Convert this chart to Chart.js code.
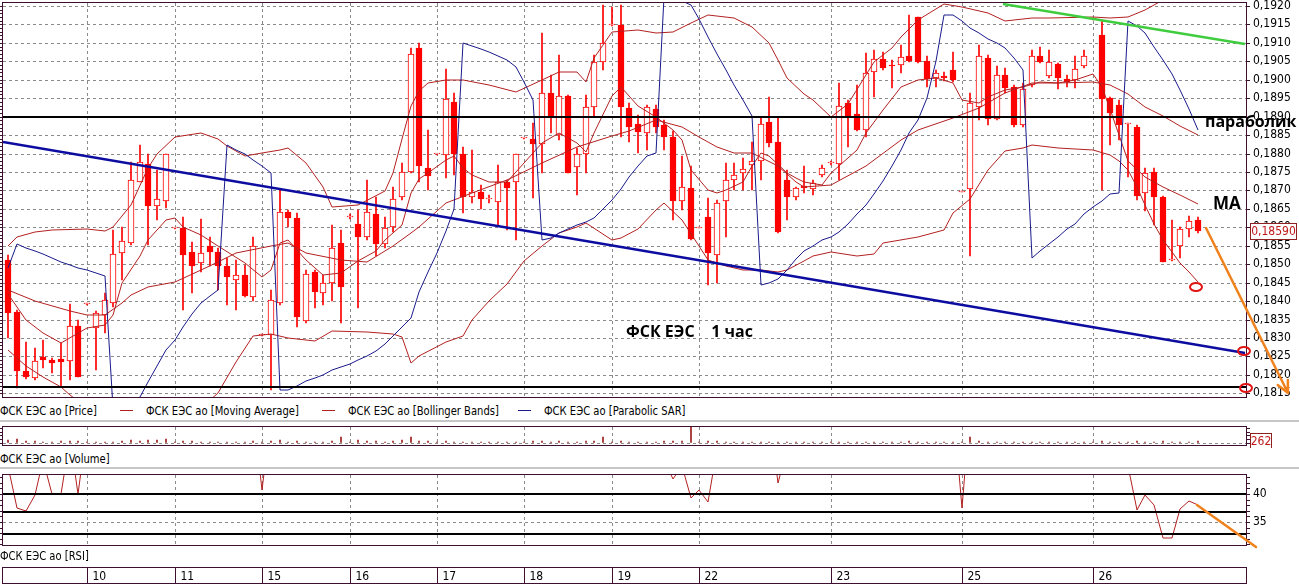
<!DOCTYPE html>
<html lang="ru">
<head>
<meta charset="utf-8">
<title>ФСК ЕЭС 1 час</title>
<script src="https://cdn.jsdelivr.net/npm/chart.js@4.4.1/dist/chart.umd.min.js"></script>
<style>
  html, body { margin: 0; padding: 0; background: #fff; }
  body { position: relative; width: 1299px; height: 585px; overflow: hidden;
         font-family: "DejaVu Sans Condensed", "Liberation Sans", sans-serif; }
  .panel { position: absolute; left: 0; width: 1299px; }
  .txt { position: absolute; font-size: 13px; line-height: 15px; color: #000; white-space: nowrap;
         transform: scaleX(0.855); transform-origin: 0 0; }
  .key { position: absolute; height: 1px; width: 13px; }
  .rule { position: absolute; left: 0; width: 1299px; height: 2px; background: #c6c6c6; }
  .note { position: absolute; font-family: "Open Sans", sans-serif; font-weight: 700; color: #000; white-space: pre; line-height: 20px; }
</style>
</head>
<body>
<div class="panel" style="top:0;height:400px"><canvas id="priceChart"></canvas></div>
<div class="panel" style="top:424px;height:24px"><canvas id="volumeChart"></canvas></div>
<div class="panel" style="top:472px;height:113px"><canvas id="rsiChart"></canvas></div>

<div class="txt" style="left:0;top:403px">ФСК ЕЭС ао [Price]</div>
<div class="key" style="left:120px;top:410px;background:#b32020"></div>
<div class="txt" style="left:146px;top:403px">ФСК ЕЭС ао [Moving Average]</div>
<div class="key" style="left:322px;top:410px;background:#b32020"></div>
<div class="txt" style="left:348px;top:403px">ФСК ЕЭС ао [Bollinger Bands]</div>
<div class="key" style="left:518px;top:410px;background:#1a1a8c"></div>
<div class="txt" style="left:544px;top:403px">ФСК ЕЭС ао [Parabolic SAR]</div>
<div class="rule" style="top:420px"></div>
<div class="txt" style="left:0;top:451px">ФСК ЕЭС ао [Volume]</div>
<div class="rule" style="top:467px"></div>
<div class="txt" style="left:0;top:548px">ФСК ЕЭС ао [RSI]</div>

<div class="note" style="left:1205px;top:111px;font-size:16px">параболик</div>
<div class="note" style="left:1213px;top:193px;font-size:17px">MA</div>
<div class="note" style="left:626px;top:321px;font-size:16px">ФСК ЕЭС    1 час</div>

<script>
// hourly bars, index 0 = first bar on screen
const dayStarts = [9, 19, 29, 39, 49, 59, 69, 79, 94, 109, 124];
const dayLabels = ['10', '11', '15', '16', '17', '18', '19', '22', '23', '25', '26'];
const priceTicks = [0.1920, 0.1915, 0.1910, 0.1905, 0.1900, 0.1895, 0.1890, 0.1885, 0.1880, 0.1875, 0.1870,
                    0.1865, 0.1860, 0.1855, 0.1850, 0.1845, 0.1840, 0.1835, 0.1830, 0.1825, 0.1820, 0.1815];
const rsiTicks = [31, 32, 33, 34, 35, 36, 37, 38, 39, 40, 41, 42, 43];
const volumeTicks = [0, 500, 1000, 1500, 2000];

const opens = [
  0.18512, 0.1837, 0.1821, 0.18191, 0.18248, 0.1824, 0.18243, 0.18238, 0.18333, 0.18392,
  0.18326, 0.18363, 0.18396, 0.1853, 0.18557, 0.18724, 0.18772, 0.18659, 0.1867, 0.18597,
  0.18597, 0.18532, 0.18503, 0.18548, 0.18532, 0.18495, 0.18457, 0.18471, 0.18412, 0.18308,
  0.18308, 0.18394, 0.18641, 0.18625, 0.18347, 0.18478, 0.18421, 0.18448, 0.18557, 0.18629,
  0.18609, 0.18575, 0.18635, 0.18554, 0.18602, 0.18683, 0.18749, 0.19085, 0.18762, 0.18798,
  0.18796, 0.18939, 0.18799, 0.18683, 0.18695, 0.18676, 0.18668, 0.18724, 0.18724, 0.18841,
  0.18839, 0.18826, 0.18963, 0.1885, 0.18957, 0.18763, 0.18799, 0.18925, 0.19047, 0.19149,
  0.19149, 0.18923, 0.18879, 0.18855, 0.18921, 0.18878, 0.18846, 0.1867, 0.18706, 0.18599,
  0.18627, 0.18525, 0.18672, 0.18728, 0.18747, 0.18769, 0.1878, 0.18885, 0.18832, 0.18728,
  0.18681, 0.18711, 0.18704, 0.18742, 0.18775, 0.18771, 0.18936, 0.18907, 0.18864, 0.19022,
  0.19055, 0.19041, 0.1904, 0.19064, 0.19169, 0.19051, 0.19004, 0.1901, 0.19027, 0.18697,
  0.18703, 0.18927, 0.19058, 0.18894, 0.19013, 0.1898, 0.18876, 0.18986, 0.19063, 0.1901,
  0.19042, 0.19001, 0.18999, 0.19036, 0.19165, 0.19121, 0.1895, 0.18932, 0.1888, 0.18873,
  0.18692, 0.18749, 0.18683, 0.18512, 0.18548, 0.18595, 0.1862
];
const highs = [
  0.18525, 0.18375, 0.1829, 0.18272, 0.18295, 0.18245, 0.18286, 0.18392, 0.1835, 0.18395,
  0.18372, 0.18421, 0.18593, 0.18602, 0.18778, 0.18823, 0.188, 0.18756, 0.18799, 0.18599,
  0.18629, 0.18561, 0.18623, 0.18573, 0.18543, 0.18516, 0.18512, 0.18498, 0.18573, 0.1831,
  0.1843, 0.18701, 0.18647, 0.18638, 0.18485, 0.18485, 0.18471, 0.18606, 0.18593, 0.18635,
  0.18647, 0.18728, 0.18683, 0.18629, 0.1871, 0.18775, 0.19085, 0.19099, 0.18864, 0.188,
  0.19028, 0.18963, 0.18819, 0.1881, 0.18715, 0.18688, 0.18769, 0.18728, 0.18798, 0.18843,
  0.18882, 0.19126, 0.19013, 0.19067, 0.18959, 0.18814, 0.18959, 0.19067, 0.19203, 0.19198,
  0.19203, 0.18936, 0.18905, 0.18932, 0.18932, 0.18891, 0.1886, 0.18792, 0.18765, 0.18601,
  0.18679, 0.18674, 0.18774, 0.18774, 0.18787, 0.18832, 0.189, 0.18954, 0.189, 0.18756,
  0.1871, 0.18765, 0.18728, 0.18769, 0.1878, 0.1899, 0.18945, 0.18986, 0.19072, 0.19081,
  0.19076, 0.19054, 0.19094, 0.19176, 0.19171, 0.19063, 0.19027, 0.19022, 0.19076, 0.18699,
  0.18963, 0.19094, 0.19067, 0.19036, 0.19031, 0.18986, 0.1899, 0.19081, 0.1909, 0.19081,
  0.19045, 0.19013, 0.19063, 0.19081, 0.19167, 0.19158, 0.18954, 0.18945, 0.18882, 0.18878,
  0.1876, 0.1876, 0.18686, 0.1862, 0.18602, 0.18631, 0.18629
];
const lows = [
  0.183, 0.18164, 0.1819, 0.18187, 0.18218, 0.18204, 0.18168, 0.18187, 0.18195, 0.1839,
  0.18214, 0.18313, 0.18385, 0.18457, 0.18552, 0.18724, 0.18552, 0.1862, 0.18652, 0.18595,
  0.18376, 0.18421, 0.1848, 0.18494, 0.1843, 0.1839, 0.18376, 0.18412, 0.18399, 0.18306,
  0.18159, 0.1839, 0.186, 0.1833, 0.1834, 0.18381, 0.1839, 0.18399, 0.1834, 0.18623,
  0.18381, 0.18566, 0.18521, 0.18543, 0.18588, 0.18674, 0.18747, 0.18724, 0.18701, 0.18796,
  0.18733, 0.18742, 0.18638, 0.18665, 0.18649, 0.18665, 0.18606, 0.18593, 0.18566, 0.18839,
  0.18679, 0.18747, 0.18855, 0.18837, 0.18747, 0.18688, 0.18747, 0.189, 0.19027, 0.19145,
  0.18846, 0.18832, 0.18801, 0.1881, 0.18855, 0.1881, 0.1862, 0.18647, 0.18566, 0.18597,
  0.18444, 0.18448, 0.18575, 0.18701, 0.18701, 0.18701, 0.18728, 0.18819, 0.18584, 0.1862,
  0.18674, 0.18692, 0.18688, 0.18737, 0.1877, 0.18728, 0.18819, 0.1886, 0.18846, 0.18954,
  0.19027, 0.18977, 0.19018, 0.19049, 0.19045, 0.1898, 0.18981, 0.18996, 0.18995, 0.18695,
  0.18521, 0.18891, 0.18877, 0.18891, 0.18963, 0.18873, 0.18873, 0.18981, 0.19045, 0.19004,
  0.18974, 0.1898, 0.18977, 0.19031, 0.19163, 0.18701, 0.18823, 0.18837, 0.18737, 0.18674,
  0.18643, 0.18606, 0.18507, 0.1851, 0.18516, 0.18575, 0.18584
];
const closes = [
  0.18367, 0.1821, 0.18193, 0.18238, 0.18239, 0.18233, 0.18236, 0.18333, 0.18195, 0.18392,
  0.18367, 0.18403, 0.18527, 0.18563, 0.18728, 0.18778, 0.18659, 0.18676, 0.18799, 0.18597,
  0.18525, 0.18496, 0.1853, 0.18532, 0.18494, 0.18464, 0.18471, 0.18415, 0.18548, 0.18308,
  0.18403, 0.18641, 0.18625, 0.18358, 0.18474, 0.18424, 0.18448, 0.18543, 0.18438, 0.18629,
  0.18573, 0.18641, 0.18554, 0.18597, 0.18677, 0.18749, 0.19069, 0.18765, 0.1874, 0.18798,
  0.18947, 0.18799, 0.18683, 0.18695, 0.18677, 0.18676, 0.18724, 0.18706, 0.18798, 0.18841,
  0.18826, 0.18963, 0.189, 0.18957, 0.18748, 0.18799, 0.18925, 0.19047, 0.19099, 0.19149,
  0.18927, 0.18873, 0.18858, 0.18927, 0.18871, 0.18844, 0.1867, 0.18709, 0.18568, 0.18599,
  0.1853, 0.18665, 0.18727, 0.18742, 0.18757, 0.1878, 0.18879, 0.18828, 0.18587, 0.18683,
  0.18706, 0.18707, 0.18721, 0.1876, 0.18775, 0.18929, 0.18898, 0.18864, 0.19018, 0.19055,
  0.19033, 0.19036, 0.19061, 0.19052, 0.19047, 0.19002, 0.19019, 0.19006, 0.19, 0.18697,
  0.18936, 0.19064, 0.18894, 0.19013, 0.18977, 0.18876, 0.18974, 0.19063, 0.19049, 0.19049,
  0.19004, 0.18995, 0.19028, 0.19064, 0.19165, 0.18947, 0.18909, 0.18876, 0.1888, 0.18686,
  0.18747, 0.18683, 0.18507, 0.18512, 0.18595, 0.18616, 0.1859
];

// Parabolic SAR, one value per bar
const sarValues = [
  0.1849, 0.18555, 0.18545, 0.18536, 0.18527, 0.18517, 0.18507, 0.18498, 0.1849, 0.18483, 0.18476, 0.18468,
  0.1811, 0.18115, 0.18125, 0.1814, 0.1818, 0.18225, 0.18268, 0.18295, 0.1833, 0.18365, 0.18395, 0.18415, 0.1843,
  0.18823, 0.1881, 0.18798, 0.18783, 0.18765, 0.18747,
  0.18159, 0.18159, 0.1817, 0.18183, 0.18192, 0.182, 0.18212, 0.1822, 0.1823, 0.1824, 0.1825, 0.18265, 0.18285,
  0.18305, 0.1833, 0.18355, 0.18425, 0.1848, 0.1853, 0.1859, 0.1865,
  0.19099, 0.19092, 0.19083, 0.19074, 0.19064, 0.19054, 0.19035, 0.18995, 0.18945,
  0.18566, 0.18572, 0.18584, 0.18595, 0.18606, 0.18615, 0.18625, 0.1865, 0.18674, 0.18705, 0.18735, 0.18765, 0.18792, 0.18801,
  0.19225, 0.1922, 0.19213, 0.19202, 0.19165, 0.19117, 0.1907, 0.19026, 0.18985, 0.18945, 0.18903,
  0.18444, 0.1845, 0.1846, 0.18485, 0.18515, 0.18535, 0.1855, 0.18566, 0.18575, 0.18586, 0.1861, 0.18635, 0.1866,
  0.1869, 0.18725, 0.18765, 0.1881, 0.18855, 0.1889, 0.1895, 0.1905,
  0.19176, 0.19176, 0.1916, 0.1914, 0.19126, 0.1911, 0.19099, 0.19085, 0.1906, 0.19027,
  0.18516, 0.18535, 0.18555, 0.18575, 0.18595, 0.1861, 0.18635, 0.18655, 0.1867, 0.18689, 0.18692,
  0.1916, 0.19145, 0.19126, 0.1909, 0.19054, 0.19015, 0.18973, 0.1892, 0.18864
];

// indicator lines as [bar, price]
const maLine = [[0,0.1842],[2,0.18349],[4,0.18313],[6,0.18286],[9,0.18326],[11,0.18335],[12,0.18363],[13,0.1845],
  [15,0.18521],[16,0.18566],[18,0.1862],[19,0.18625],[20,0.18602],[22,0.1858],[24,0.18548],[27,0.18503],[29,0.18464],
  [30,0.18485],[31,0.18557],[32,0.18566],[34,0.18512],[36,0.1847],[38,0.18476],[40,0.18508],[42,0.18535],[43,0.18566],
  [45,0.18605],[46,0.18692],[47,0.1873],[48,0.18747],[50,0.18783],[51,0.18792],[52,0.1876],[53,0.18742],[55,0.18724],
  [57,0.18724],[59,0.18774],[61,0.18828],[63,0.18855],[65,0.18828],[66,0.18805],[67,0.18855],[69,0.18955],[70,0.1898],
  [72,0.1893],[74,0.189],[76,0.18864],[77,0.18837],[78,0.18756],[80,0.187],[81,0.18692],[82,0.18701],[84,0.18724],
  [85,0.18765],[86,0.18801],[87,0.18792],[89,0.18747],[90,0.18733],[91,0.18724],[93,0.18715],[94,0.18747],[97,0.1881],
  [98,0.18855],[100,0.18918],[102,0.18981],[104,0.18999],[106,0.19004],[108,0.1899],[109,0.18945],[111,0.18936],
  [112,0.18954],[114,0.18972],[116,0.1898],[118,0.18995],[120,0.1899],[122,0.19],[124,0.19015],[125,0.1898],
  [126,0.1892],[127,0.1885],[128,0.1878],[130,0.18735],[132,0.1871],[134,0.18688],[136,0.18663]];
const bbUpper = [[0,0.18548],[1,0.18575],[3,0.18586],[5,0.18593],[9,0.18595],[11,0.18591],[12,0.18602],[14,0.1866],
  [16,0.1876],[17,0.188],[19,0.18846],[22,0.18855],[24,0.1884],[25,0.1882],[27,0.18792],[29,0.18801],[31,0.1881],
  [32,0.18814],[34,0.18774],[36,0.1871],[37,0.18655],[40,0.18661],[43,0.18698],[44,0.18747],[45,0.1884],[46,0.1893],
  [47,0.1897],[48,0.1899],[50,0.19],[52,0.19],[55,0.18986],[58,0.18968],[61,0.19],[63,0.19022],[65,0.19022],
  [66,0.18995],[67,0.1906],[69,0.1913],[72,0.19135],[74,0.19126],[76,0.1913],[78,0.19153],[80,0.19176],[83,0.19167],
  [85,0.19144],[87,0.19099],[88,0.19054],[89,0.19005],[91,0.1896],[92,0.18945],[94,0.189],[96,0.18935],[99,0.19048],
  [101,0.19085],[102,0.19117],[104,0.19162],[107,0.19205],[109,0.19198],[112,0.1918],[114,0.1916],[117,0.19167],
  [119,0.19167],[124,0.19171],[126,0.19167],[128,0.1917],[130,0.1919],[132,0.19215],[134,0.19235],[136,0.1925]];
const bbMiddle = [[0,0.1843],[3,0.18399],[7,0.18372],[9,0.18363],[11,0.18363],[13,0.18394],[14,0.18417],[16,0.18439],
  [19,0.18453],[22,0.18485],[24,0.18505],[26,0.1853],[30,0.18548],[32,0.18557],[34,0.1853],[38,0.18512],[41,0.18507],
  [44,0.18548],[46,0.18585],[47,0.18602],[50,0.18665],[53,0.18692],[57,0.18728],[61,0.18774],[65,0.18819],[69,0.18848],
  [71,0.1886],[74,0.18891],[77,0.18873],[79,0.18846],[81,0.18819],[83,0.18801],[85,0.18801],[88,0.18765],[90,0.18724],
  [91,0.1871],[94,0.18715],[98,0.18765],[102,0.18837],[104,0.18864],[108,0.18896],[111,0.18923],[114,0.18963],
  [117,0.1899],[120,0.1899],[124,0.18995],[126,0.18985],[128,0.1896],[130,0.18925],[132,0.18903],[134,0.18875],[136,0.1885]];
const bbLower = [[0,0.18268],[2,0.18223],[4,0.18195],[6,0.18168],[7,0.18145],[9,0.1811],[12,0.1808],[18,0.1808],
  [22,0.1811],[24,0.1815],[26,0.18235],[28,0.18304],[30,0.1831],[32,0.183],[35,0.18292],[37,0.1832],[41,0.18317],
  [44,0.1831],[45,0.18302],[46,0.18232],[47,0.1825],[50,0.18288],[52,0.18305],[53,0.18349],[55,0.184],[57,0.18445],
  [59,0.1851],[61,0.18548],[63,0.18584],[65,0.18602],[66,0.18611],[69,0.18566],[70,0.18572],[72,0.18595],[74,0.18647],
  [75,0.18665],[77,0.1862],[79,0.1855],[80,0.18512],[82,0.18494],[84,0.18485],[86,0.18485],[88,0.1848],[89,0.18485],
  [91,0.1851],[92,0.18521],[94,0.18534],[97,0.18521],[99,0.18528],[100,0.18557],[104,0.18575],[107,0.18593],[108,0.1864],
  [110,0.18678],[112,0.18755],[114,0.18806],[116,0.18815],[117,0.18823],[120,0.18814],[124,0.1881],[126,0.18795],
  [127,0.1878],[128,0.18755],[129,0.1871],[130,0.1866],[131,0.1861],[132,0.18565],[133,0.18533],[134,0.18503],
  [135,0.18478],[136,0.18452]];

const volumes = [
  350, 520, 180, 260, 150, 120, 300, 200, 260, 80,
  150, 120, 100, 180, 350, 300, 420, 380, 450, 60,
  220, 180, 120, 100, 140, 90, 120, 160, 200, 50,
  260, 380, 150, 300, 120, 90, 110, 200, 760, 60,
  420, 300, 180, 160, 220, 380, 700, 300, 250, 60,
  200, 150, 120, 110, 90, 100, 160, 120, 140, 60,
  180, 250, 140, 200, 150, 110, 180, 240, 700, 60,
  260, 150, 120, 140, 130, 180, 220, 300, 2100, 60,
  250, 180, 120, 100, 90, 80, 120, 110, 130, 100,
  90, 80, 70, 90, 60, 110, 100, 120, 140, 110,
  150, 130, 120, 180, 140, 110, 90, 100, 120, 120,
  700, 180, 130, 120, 110, 130, 100, 140, 90, 100,
  80, 90, 110, 100, 60, 240, 150, 160, 110, 200,
  130, 160, 190, 120, 110, 140, 262
];
const rsiValues = [
  45, 37.5, 37, 39.8, 46, 40, 40, 50, 40, 52,
  55, 58, 62, 64, 68, 70, 62, 63, 68, 60,
  55, 53, 54, 53, 52, 50, 50, 47, 55, 40.7,
  54, 62, 61, 48, 54, 51, 52, 57, 50, 55,
  53, 57, 52, 55, 59, 63, 75, 60, 59, 61,
  66, 58, 53, 54, 53, 53, 55, 54, 58, 60,
  59, 65, 61, 64, 54, 56, 62, 66, 68, 70,
  58, 55, 54, 57, 54, 46, 42.6, 45, 39.3, 40.7,
  38.6, 48, 51, 52, 53, 54, 58, 55, 42, 48,
  49, 49, 50, 51, 52, 58, 56, 54, 60, 62,
  61, 61, 62, 62, 57, 55, 56, 55, 56, 37.5,
  55, 60, 53, 57, 56, 52, 56, 59, 58, 58,
  56, 56, 57, 59, 59, 50, 48, 47, 45, 37.2,
  39.9, 38, 32.2, 32.2, 37.4, 38.7, 38
];

// hand-drawn marks, in [bar, value]
const levelPrices = [0.1890, 0.18168];
const trendBlue = [[-0.62, 0.18832], [141.4, 0.1826]];
const trendGreen = [[113.7, 0.19205], [141.4, 0.19096]];
const arrowPrice = [[136.9, 0.18598], [146.3, 0.18151]];
const circleMarks = [[135.8, 0.18438], [141.3, 0.18265], [141.5, 0.18165]];
const rsiLevels = [40, 36.8, 32.9];
const arrowRsi = [[135.9, 38.0], [142.6, 30.5]];

const X_MIN = -0.62, X_MAX = 141.5;
const FRAME = '#3d0f30', GRID = '#8a8a8a', CANDLE = '#ff0000', IND = '#b32020', SAR = '#1a1a8c';
const NARROW = '"DejaVu Sans Condensed", "Liberation Sans", sans-serif';

Chart.defaults.font.family = NARROW;
Chart.defaults.font.size = 12;
Chart.defaults.color = '#000';

const pts = arr => arr.map((y, i) => ({ x: i, y }));
const pairs = arr => arr.map(([x, y]) => ({ x, y }));
const across = y => [{ x: X_MIN, y }, { x: X_MAX, y }];

function dayAxis(height) {
  return {
    type: 'linear', min: X_MIN, max: X_MAX, offset: false, alignToPixels: true,
    afterBuildTicks: ax => { ax.ticks = dayStarts.map(value => ({ value })); },
    ticks: { display: false },
    grid: { color: GRID, lineWidth: 1, drawTicks: false, offset: false },
    border: { display: false, dash: [3, 3] },
    afterFit: ax => { ax.height = height; }
  };
}

function rightAxis(min, max, tickValues, label, gridColor) {
  return {
    type: 'linear', position: 'right', min, max, alignToPixels: true,
    afterBuildTicks: ax => { ax.ticks = tickValues.map(value => ({ value })); },
    ticks: { padding: 3, color: '#000', font: { size: 12 }, autoSkip: false, callback: label },
    grid: { color: gridColor, lineWidth: 1, drawTicks: true, tickLength: 4, tickColor: FRAME, tickBorderDash: [] },
    border: { display: false, dash: [3, 3] },
    afterFit: ax => { ax.width = 53; ax.paddingTop = 0; ax.paddingBottom = 0; }
  };
}

function leftAxis(min, max, tickValues) {
  return {
    type: 'linear', position: 'left', min, max, alignToPixels: true,
    afterBuildTicks: ax => { ax.ticks = tickValues.map(value => ({ value })); },
    ticks: { display: false, autoSkip: false },
    grid: { drawOnChartArea: false, drawTicks: true, tickLength: 3, tickColor: FRAME },
    border: { display: false },
    afterFit: ax => { ax.width = 3; ax.paddingTop = 0; ax.paddingBottom = 0; }
  };
}

function frame(chart) {
  const { ctx, chartArea: a } = chart;
  ctx.save();
  ctx.strokeStyle = FRAME;
  ctx.lineWidth = 1;
  ctx.strokeRect(Math.round(a.left) - 0.5, Math.round(a.top) - 0.5,
                 Math.round(a.right - a.left) + 1, Math.round(a.bottom - a.top) + 1);
  ctx.restore();
}

function drawArrow(chart, seg, head) {
  const { ctx, scales: { x, y } } = chart;
  const x1 = x.getPixelForValue(seg[0][0]), y1 = y.getPixelForValue(seg[0][1]);
  const x2 = x.getPixelForValue(seg[1][0]), y2 = y.getPixelForValue(seg[1][1]);
  ctx.save();
  ctx.strokeStyle = '#f0821e';
  ctx.lineWidth = 2.5;
  ctx.lineCap = 'round';
  ctx.beginPath();
  ctx.moveTo(x1, y1);
  ctx.lineTo(x2, y2);
  if (head) {
    const ang = Math.atan2(y2 - y1, x2 - x1);
    [-0.45, 0.45].forEach(d => {
      ctx.moveTo(x2, y2);
      ctx.lineTo(x2 - 13 * Math.cos(ang + d), y2 - 13 * Math.sin(ang + d));
    });
  }
  ctx.stroke();
  ctx.restore();
}

function valueTag(chart, value, text, width) {
  const { ctx, chartArea: a, scales: { y } } = chart;
  const ty = Math.round(y.getPixelForValue(value));
  ctx.save();
  ctx.fillStyle = '#fff';
  ctx.fillRect(a.right + 4, ty - 8, width, 17);
  ctx.strokeStyle = '#8e2020';
  ctx.lineWidth = 1;
  ctx.strokeRect(a.right + 4.5, ty - 7.5, width - 1, 16);
  ctx.fillStyle = '#c01818';
  ctx.font = '12px ' + NARROW;
  ctx.textAlign = 'center';
  ctx.textBaseline = 'middle';
  ctx.fillText(text, a.right + 4 + width / 2, ty + 1);
  ctx.restore();
}

const baseOptions = {
  responsive: true,
  maintainAspectRatio: false,
  animation: false,
  events: [],
  layout: { padding: { top: 3 } },
  plugins: { legend: { display: false }, tooltip: { enabled: false } },
  elements: { point: { radius: 0 }, line: { borderWidth: 1, tension: 0 } }
};

// --- price panel
const bodies = opens.map((o, i) => ({ x: i, y: [o, closes[i]] }));
const wicks = lows.map((l, i) => ({ x: i, y: [l, highs[i]] }));
const minorPrice = [];
for (let v = 1815; v <= 1920; v++) minorPrice.push(v / 10000);

new Chart(document.getElementById('priceChart'), {
  type: 'bar',
  data: {
    datasets: [
      { type: 'line', data: across(levelPrices[0]), borderColor: '#000', borderWidth: 2.2, order: 0 },
      { type: 'line', data: across(levelPrices[1]), borderColor: '#000', borderWidth: 2.2, order: 0 },
      { type: 'line', data: pairs(trendBlue), borderColor: '#0c0ca0', borderWidth: 2.5, order: 0 },
      { type: 'line', data: pairs(trendGreen), borderColor: '#3fcc3f', borderWidth: 2.5, order: 0 },
      { type: 'line', data: pts(sarValues), borderColor: SAR, order: 1 },
      { type: 'line', data: pairs(maLine), borderColor: IND, order: 2 },
      { type: 'line', data: pairs(bbUpper), borderColor: IND, order: 2 },
      { type: 'line', data: pairs(bbMiddle), borderColor: IND, order: 2 },
      { type: 'line', data: pairs(bbLower), borderColor: IND, order: 2 },
      {
        data: bodies, order: 3, grouped: false, barThickness: 6, minBarLength: 1,
        backgroundColor: closes.map((c, i) => (c < opens[i] ? CANDLE : '#fff')),
        borderColor: CANDLE, borderWidth: 1, borderSkipped: false
      },
      { data: wicks, order: 4, grouped: false, barThickness: 1, backgroundColor: CANDLE }
    ]
  },
  options: {
    ...baseOptions,
    scales: {
      x: dayAxis(3),
      y: rightAxis(0.1814, 0.19208, priceTicks, v => v.toFixed(4).replace('.', ','), GRID),
      yl: leftAxis(0.1814, 0.19208, minorPrice)
    }
  },
  plugins: [{
    id: 'priceMarks',
    afterDraw(chart) {
      frame(chart);
      const { ctx, scales: { x, y } } = chart;
      ctx.save();
      ctx.strokeStyle = '#e01414';
      ctx.lineWidth = 2;
      circleMarks.forEach(([bx, p]) => {
        ctx.beginPath();
        ctx.ellipse(x.getPixelForValue(bx), y.getPixelForValue(p), 6, 4, 0, 0, Math.PI * 2);
        ctx.stroke();
      });
      ctx.restore();
      drawArrow(chart, arrowPrice, true);
      const last = closes[closes.length - 1];
      valueTag(chart, last, last.toFixed(5).replace('.', ','), 47);
    }
  }]
});

// --- volume panel
new Chart(document.getElementById('volumeChart'), {
  type: 'bar',
  data: {
    datasets: [{ data: pts(volumes), barThickness: 1, backgroundColor: '#9c1c1c', grouped: false }]
  },
  options: {
    ...baseOptions,
    scales: {
      x: dayAxis(3),
      y: rightAxis(-300, 2100, volumeTicks, () => '', c => (c.tick && c.tick.value === 0 ? GRID : 'rgba(0,0,0,0)')),
      yl: leftAxis(-300, 2100, volumeTicks)
    }
  },
  plugins: [{
    id: 'volumeMarks',
    afterDraw(chart) {
      frame(chart);
      valueTag(chart, volumes[volumes.length - 1], String(volumes[volumes.length - 1]), 22);
    }
  }]
});

// --- RSI panel with the date strip underneath
new Chart(document.getElementById('rsiChart'), {
  type: 'line',
  data: {
    datasets: [
      ...rsiLevels.map(v => ({ data: across(v), borderColor: '#000', borderWidth: 2.2, order: 0 })),
      { data: pts(rsiValues), borderColor: IND, order: 1 }
    ]
  },
  options: {
    ...baseOptions,
    scales: {
      x: dayAxis(40),
      y: rightAxis(30.89, 43.39, rsiTicks, v => (v === 35 || v === 40 ? String(v) : ''),
        c => (c.tick && (c.tick.value === 35 || c.tick.value === 40) ? GRID : 'rgba(0,0,0,0)')),
      yl: leftAxis(30.89, 43.39, rsiTicks)
    }
  },
  plugins: [{
    id: 'rsiMarks',
    afterDraw(chart) {
      frame(chart);
      drawArrow(chart, arrowRsi, false);
      const { ctx, chartArea: a, scales: { x } } = chart;
      const top = Math.round(a.bottom) + 22.5, bottom = Math.round(a.bottom) + 38.5;
      ctx.save();
      ctx.strokeStyle = FRAME;
      ctx.lineWidth = 1;
      ctx.strokeRect(Math.round(a.left) - 0.5, top, Math.round(a.right - a.left) + 1, bottom - top);
      ctx.fillStyle = '#000';
      ctx.font = '12px ' + NARROW;
      ctx.textBaseline = 'middle';
      dayStarts.forEach((d, i) => {
        const px = Math.round(x.getPixelForValue(d)) + 0.5;
        ctx.beginPath();
        ctx.moveTo(px, top);
        ctx.lineTo(px, bottom);
        ctx.stroke();
        ctx.fillText(dayLabels[i], px + 5, (top + bottom) / 2 + 1);
      });
      ctx.restore();
    }
  }]
});
</script>
</body>
</html>
